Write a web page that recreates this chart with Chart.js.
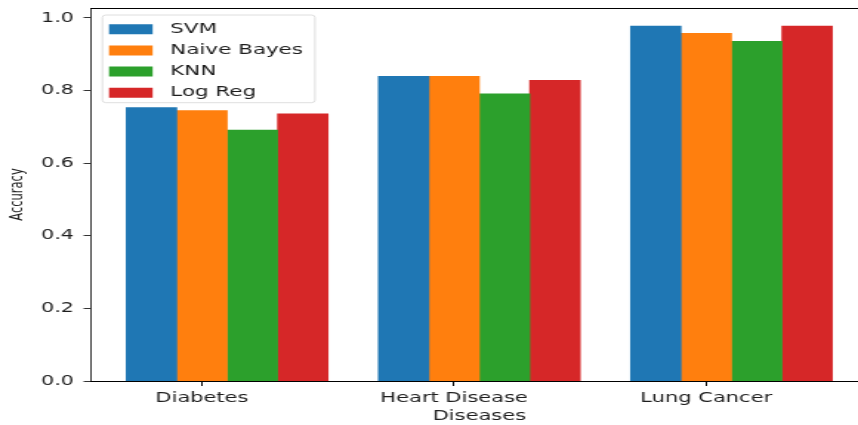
<!DOCTYPE html>
<html><head><meta charset="utf-8">
<script src="https://cdn.jsdelivr.net/npm/chart.js@4"></script>
<style>
html,body{margin:0;padding:0;background:#fff;overflow:hidden;width:858px;height:425px;}
#wrap{position:absolute;left:0;top:0;width:587px;height:425px;transform:scaleX(1.4793);transform-origin:0 0;}
canvas{display:block;}
</style></head><body>
<div id="wrap"><canvas id="c" width="587" height="425" style="width:587px;height:425px"></canvas></div>
<script>
const categories = ['Diabetes', 'Heart Disease', 'Lung Cancer'];
const seriesNames = ['SVM', 'Naive Bayes', 'KNN', 'Log Reg'];
const svm = [0.753, 0.839, 0.978];
const naiveBayes = [0.745, 0.839, 0.958];
const knn = [0.691, 0.791, 0.936];
const logReg = [0.736, 0.828, 0.978];
const seriesValues = [svm, naiveBayes, knn, logReg];
const barOffsets = [0, 0.2, 0.4, 0.6];
const tickOffset = 0.2;
const yTickValues = [0, 0.2, 0.4, 0.6, 0.8, 1.0];
const colors = ['#1f77b4', '#ff7f0e', '#2ca02c', '#d62728'];

const FONT = 'DejaVu Sans';
const TXT = '#1e1e1e';

const datasets = seriesNames.map((name, k) => ({
  label: name,
  data: seriesValues[k].map((v, i) => ({x: i + barOffsets[k], y: v})),
  backgroundColor: colors[k],
  borderColor: colors[k],
  borderWidth: 0,
  grouped: false,
  barPercentage: 1,
  categoryPercentage: 1
}));

const legendFrame = {
  id: 'legendFrame',
  afterLayout(chart) {
    const lg = chart.legend, ca = chart.chartArea;
    if (lg) { lg.left = ca.left + 5.6; lg.top = ca.top + 7.5; }
  },
  beforeDraw(chart) {
    const ca = chart.chartArea;
    const ctx = chart.ctx;
    const x = ca.left + 7.7, y = ca.top + 7, w = 143.7, h = 87.7, r = 2.5;
    ctx.save();
    ctx.beginPath();
    ctx.moveTo(x + r, y);
    ctx.arcTo(x + w, y, x + w, y + h, r);
    ctx.arcTo(x + w, y + h, x, y + h, r);
    ctx.arcTo(x, y + h, x, y, r);
    ctx.arcTo(x, y, x + w, y, r);
    ctx.closePath();
    ctx.fillStyle = 'rgba(255,255,255,0.8)';
    ctx.fill();
    ctx.lineWidth = 0.8;
    ctx.strokeStyle = '#d6d6d6';
    ctx.stroke();
    ctx.restore();
  }
};

new Chart(document.getElementById('c'), {
  type: 'bar',
  data: {datasets},
  plugins: [legendFrame],
  options: {
    responsive: false,
    devicePixelRatio: 1,
    animation: false,
    layout: {padding: {left: 0, right: 0.5, top: 8, bottom: 0}},
    plugins: {
      tooltip: {enabled: false},
      legend: {
        position: 'chartArea',
        align: 'start',
        labels: {
          boxWidth: 29.5,
          boxHeight: 10,
          padding: 6.6,
          color: TXT,
          font: {family: FONT, size: 14.5},
          generateLabels: (chart) => Chart.defaults.plugins.legend.labels.generateLabels(chart).map(l => Object.assign(l, {text: ' ' + l.text, lineWidth: 0}))
        }
      }
    },
    scales: {
      x: {
        type: 'linear',
        position: 'bottom',
        min: -0.24,
        max: 2.84,
        offset: false,
        afterBuildTicks: (s) => { s.ticks = categories.map((c, i) => ({value: i + tickOffset})); },
        afterFit: (s) => { s.height = 44; s.paddingLeft = 0; s.paddingRight = 0; },
        ticks: {
          autoSkip: false,
          maxRotation: 0,
          padding: 3.5,
          color: TXT,
          font: {family: FONT, size: 14.2},
          callback: (v) => categories[Math.round(v - tickOffset)]
        },
        grid: {offset: false, drawOnChartArea: false, drawTicks: true, tickLength: 5, color: '#000', lineWidth: 1},
        border: {display: true, color: '#000', width: 1},
        title: {display: true, text: 'Diseases', color: TXT, font: {family: FONT, size: 14.2}, padding: {top: 0, bottom: 0}}
      },
      x2: {
        type: 'linear',
        position: 'top',
        display: true,
        afterFit: (s) => { s.height = 0; s.paddingLeft = 0; s.paddingRight = 0; },
        ticks: {display: false},
        grid: {display: false},
        border: {display: true, color: '#000', width: 1}
      },
      y: {
        type: 'linear',
        min: 0,
        max: 1.0275,
        afterBuildTicks: (s) => { s.ticks = yTickValues.map(v => ({value: v})); },
        afterFit: (s) => { s.width = 61.5; s.paddingTop = 0; s.paddingBottom = 0; },
        ticks: {
          padding: 6.5,
          color: TXT,
          font: {family: FONT, size: 14},
          callback: (v) => Number(v).toFixed(1)
        },
        grid: {drawOnChartArea: false, drawTicks: true, tickLength: 5, color: '#000', lineWidth: 0.8},
        border: {display: true, color: '#000', width: 0.8},
        title: {display: true, text: 'Accuracy', color: TXT, font: {family: FONT, size: 11.5}, padding: {top: 5, bottom: 0}}
      }
    }
  }
});
</script>
</body></html>
